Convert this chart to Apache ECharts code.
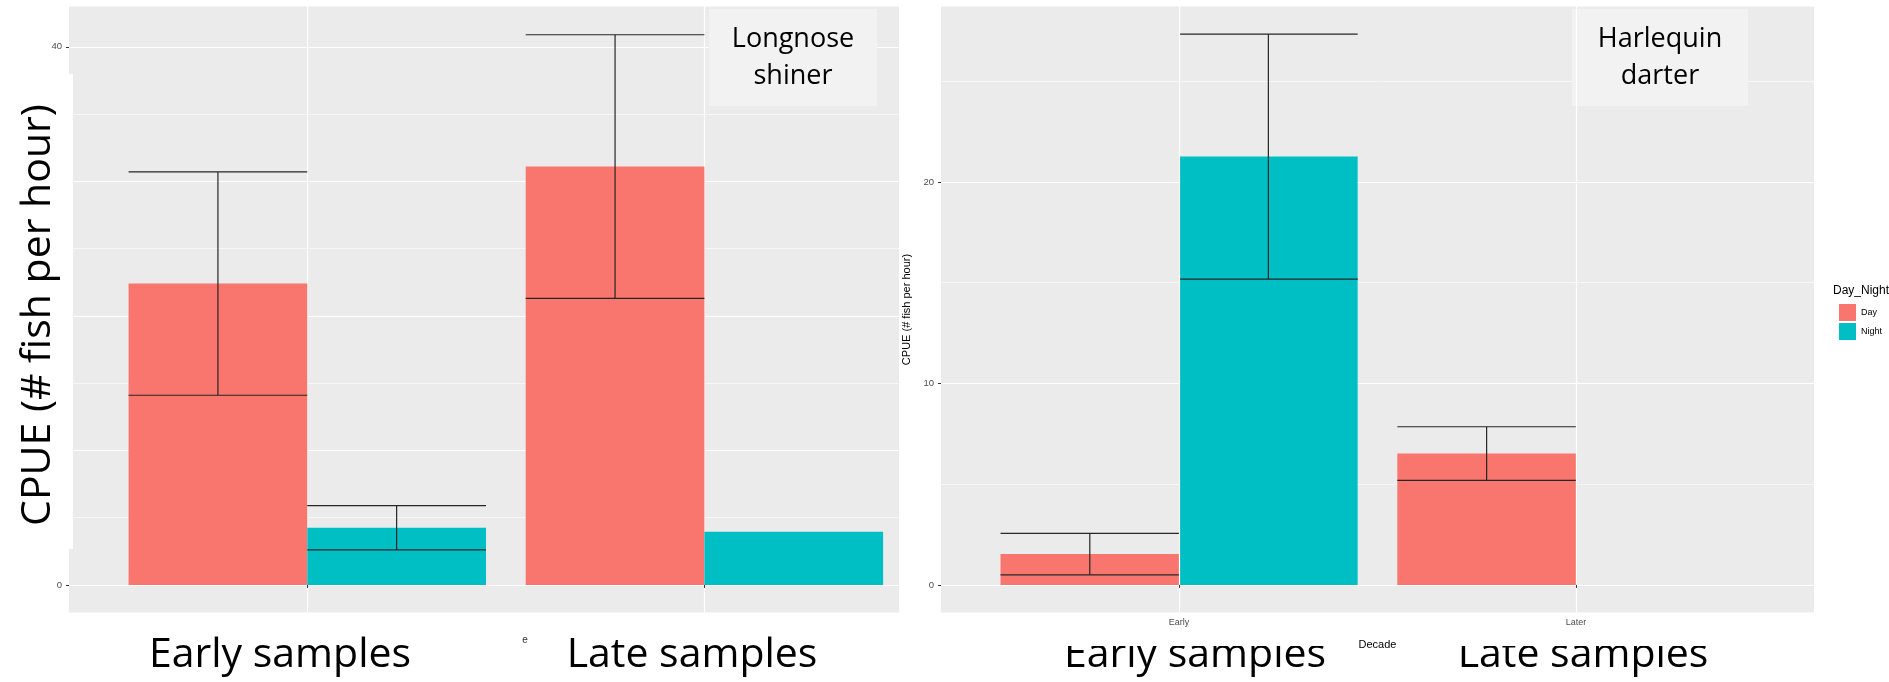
<!DOCTYPE html>
<html>
<head>
<meta charset="utf-8">
<title>CPUE Day / Night</title>
<script src="https://cdn.jsdelivr.net/npm/echarts@6.0.0/dist/echarts.min.js"></script>
<style>
  html, body { margin: 0; padding: 0; background: #fff; }
  #main { width: 1889px; height: 682px; }
</style>
</head>
<body>
<div id="main"></div>
<script>
// categories (Decade)
var categories = ['Early', 'Later'];

// Longnose shiner, CPUE mean and SE
var shinerDay = [22.4, 31.1];
var shinerNight = [4.25, 3.95];
var shinerDaySE = [8.3, 9.8];
var shinerNightSE = [1.65, null];

// Harlequin darter, CPUE mean and SE
var darterDay = [1.53, 6.52];
var darterNight = [21.26, 0];
var darterDaySE = [1.03, 1.33];
var darterNightSE = [6.08, null];

// tick values
var shinerMajor = [0, 10, 20, 30, 40];
var shinerLabels = [0, 40];
var shinerMinor = [5, 15, 25, 35];
var darterMajor = [0, 10, 20];
var darterMinor = [5, 15, 25];

var DAY = '#F8766D';
var NIGHT = '#00BFC4';
var HALF = 0.225;   // half of a dodged bar, in category units
var GG = '"Liberation Sans", Arial, sans-serif';
var BIG = '"Open Sans", sans-serif';

var myChart = echarts.init(document.getElementById('main'));

function barData(values, offset) {
    return values.map(function (v, i) { return [i + 1 + offset, v]; });
}
function errData(values, se, offset) {
    var out = [];
    values.forEach(function (v, i) {
        if (se[i] != null) out.push([i + 1 + offset, v, se[i]]);
    });
    return out;
}

function renderBar(params, api) {
    var x = api.value(0), y = api.value(1);
    var p0 = api.coord([x - HALF, 0]);
    var p1 = api.coord([x + HALF, y]);
    return {
        type: 'rect',
        shape: { x: p0[0], y: p1[1], width: p1[0] - p0[0], height: p0[1] - p1[1] },
        style: { fill: api.visual('color') }
    };
}

function renderErr(params, api) {
    var x = api.value(0), m = api.value(1), se = api.value(2);
    var tl = api.coord([x - HALF, m + se]);
    var tr = api.coord([x + HALF, m + se]);
    var bl = api.coord([x - HALF, m - se]);
    var br = api.coord([x + HALF, m - se]);
    var c = api.coord([x, m]);
    var st = { stroke: '#262626', lineWidth: 1.2 };
    return {
        type: 'group',
        children: [
            { type: 'line', shape: { x1: tl[0], y1: tl[1], x2: tr[0], y2: tr[1] }, style: st },
            { type: 'line', shape: { x1: bl[0], y1: bl[1], x2: br[0], y2: br[1] }, style: st },
            { type: 'line', shape: { x1: c[0], y1: tl[1], x2: c[0], y2: bl[1] }, style: st }
        ]
    };
}

function majorY(grid, min, max, ticks, labels, name) {
    return {
        type: 'value', gridIndex: grid, min: min, max: max,
        axisLine: { show: false },
        axisTick: { show: true, length: 3, customValues: ticks, lineStyle: { color: '#333' } },
        axisLabel: { customValues: labels, margin: 7, fontSize: 9.5, color: '#4D4D4D', fontFamily: GG },
        splitLine: { show: true, lineStyle: { color: '#FFFFFF', width: 1.2 } },
        name: name || '', nameLocation: 'middle', nameGap: 29,
        nameTextStyle: { fontSize: 11, color: '#000', fontFamily: GG }
    };
}
function minorY(grid, min, max, ticks) {
    return {
        type: 'value', gridIndex: grid, min: min, max: max,
        axisLine: { show: false },
        axisTick: { show: false, customValues: ticks },
        axisLabel: { show: false },
        splitLine: { show: true, lineStyle: { color: '#FAFAFA', width: 0.8 } }
    };
}

var option = {
    animation: false,
    backgroundColor: '#fff',
    color: [DAY, NIGHT],
    grid: [
        { left: 69, top: 6.5, width: 830, height: 606, show: true, backgroundColor: '#EBEBEB', borderWidth: 0 },
        { left: 941, top: 6.5, width: 873, height: 606, show: true, backgroundColor: '#EBEBEB', borderWidth: 0 }
    ],
    legend: {
        data: ['Day', 'Night'],
        orient: 'vertical',
        left: 1834, top: 299,
        itemWidth: 17, itemHeight: 17, itemGap: 2,
        icon: 'rect',
        selectedMode: false,
        textStyle: { fontSize: 9, color: '#000', fontFamily: GG }
    },
    xAxis: [
        {
            type: 'value', gridIndex: 0, min: 0.4, max: 2.49,
            axisLine: { show: false },
            axisTick: { show: true, length: 3, customValues: [1, 2], lineStyle: { color: '#333' } },
            axisLabel: { show: false },
            splitLine: { show: true, lineStyle: { color: '#FFFFFF', width: 1.2 } }
        },
        {
            type: 'value', gridIndex: 1, min: 0.4, max: 2.6, z: 70,
            axisLine: { show: false },
            axisTick: { show: true, length: 3, customValues: [1, 2], lineStyle: { color: '#333' } },
            axisLabel: {
                customValues: [1, 2], margin: 6, fontSize: 9, color: '#4D4D4D', fontFamily: GG,
                formatter: function (v) { return categories[Math.round(v) - 1]; }
            },
            splitLine: { show: true, lineStyle: { color: '#FFFFFF', width: 1.2 } },
            name: 'Decade', nameLocation: 'middle', nameGap: 27,
            nameTextStyle: { fontSize: 11, color: '#000', fontFamily: GG }
        }
    ],
    yAxis: [
        majorY(0, -2.05, 43.0, shinerMajor, shinerLabels),
        minorY(0, -2.05, 43.0, shinerMinor),
        majorY(1, -1.37, 28.71, darterMajor, darterMajor, 'CPUE (# fish per hour)'),
        minorY(1, -1.37, 28.71, darterMinor)
    ],
    series: [
        { name: 'Day', type: 'custom', xAxisIndex: 0, yAxisIndex: 0, itemStyle: { color: DAY },
          encode: { x: 0, y: 1 }, renderItem: renderBar, data: barData(shinerDay, -HALF) },
        { name: 'Night', type: 'custom', xAxisIndex: 0, yAxisIndex: 0, itemStyle: { color: NIGHT },
          encode: { x: 0, y: 1 }, renderItem: renderBar, data: barData(shinerNight, HALF) },
        { name: 'Day', type: 'custom', xAxisIndex: 1, yAxisIndex: 2, itemStyle: { color: DAY },
          encode: { x: 0, y: 1 }, renderItem: renderBar, data: barData(darterDay, -HALF) },
        { name: 'Night', type: 'custom', xAxisIndex: 1, yAxisIndex: 2, itemStyle: { color: NIGHT },
          encode: { x: 0, y: 1 }, renderItem: renderBar, data: barData(darterNight, HALF) },
        { name: 'errShiner', type: 'custom', xAxisIndex: 0, yAxisIndex: 0, z: 5,
          encode: { x: 0, y: 1 }, renderItem: renderErr,
          data: errData(shinerDay, shinerDaySE, -HALF).concat(errData(shinerNight, shinerNightSE, HALF)) },
        { name: 'errDarter', type: 'custom', xAxisIndex: 1, yAxisIndex: 2, z: 5,
          encode: { x: 0, y: 1 }, renderItem: renderErr,
          data: errData(darterDay, darterDaySE, -HALF).concat(errData(darterNight, darterNightSE, HALF)) }
    ],
    graphic: [
        // white patch with the big y title on the left panel
        { type: 'rect', shape: { x: 0, y: 74, width: 73, height: 475 }, style: { fill: '#fff' }, z: 100 },
        { type: 'text', x: 38, y: 315, rotation: Math.PI / 2, z: 101,
          style: { text: 'CPUE (# fish per hour)', fontSize: 41, fontFamily: BIG, fill: '#000', align: 'center', verticalAlign: 'middle' } },
        // species boxes
        { type: 'rect', shape: { x: 709, y: 9, width: 168, height: 97 }, style: { fill: '#F2F2F2' }, z: 20 },
        { type: 'text', x: 793, y: 58, z: 21,
          style: { text: 'Longnose\nshiner', fontSize: 27, lineHeight: 37, fontFamily: BIG, fill: '#000', align: 'center', verticalAlign: 'middle' } },
        { type: 'rect', shape: { x: 1572, y: 9, width: 176, height: 97 }, style: { fill: '#F2F2F2' }, z: 20 },
        { type: 'text', x: 1660, y: 58, z: 21,
          style: { text: 'Harlequin\ndarter', fontSize: 27, lineHeight: 37, fontFamily: BIG, fill: '#000', align: 'center', verticalAlign: 'middle' } },
        // legend title
        { type: 'text', x: 1833, y: 291, z: 20,
          style: { text: 'Day_Night', fontSize: 12, fontFamily: GG, fill: '#000', align: 'left', verticalAlign: 'middle' } },
        // bottom labels
        { type: 'text', x: 280, y: 655, z: 50,
          style: { text: 'Early samples', fontSize: 41, fontFamily: BIG, fill: '#000', align: 'center', verticalAlign: 'middle' } },
        { type: 'text', x: 692, y: 655, z: 50,
          style: { text: 'Late samples', fontSize: 41, fontFamily: BIG, fill: '#000', align: 'center', verticalAlign: 'middle' } },
        { type: 'text', x: 1195, y: 655, z: 50,
          style: { text: 'Early samples', fontSize: 41, fontFamily: BIG, fill: '#000', align: 'center', verticalAlign: 'middle' } },
        { type: 'text', x: 1583, y: 655, z: 50,
          style: { text: 'Late samples', fontSize: 41, fontFamily: BIG, fill: '#000', align: 'center', verticalAlign: 'middle' } },
        // the right screenshot hides the top of its labels
        { type: 'rect', shape: { x: 900, y: 613, width: 989, height: 33 }, style: { fill: '#fff' }, z: 60 },
        // leftover letter of the hidden axis title
        { type: 'text', x: 525, y: 640, z: 60,
          style: { text: 'e', fontSize: 10, fontFamily: GG, fill: '#333', align: 'center', verticalAlign: 'middle' } }
    ]
};

myChart.setOption(option);
</script>
</body>
</html>
